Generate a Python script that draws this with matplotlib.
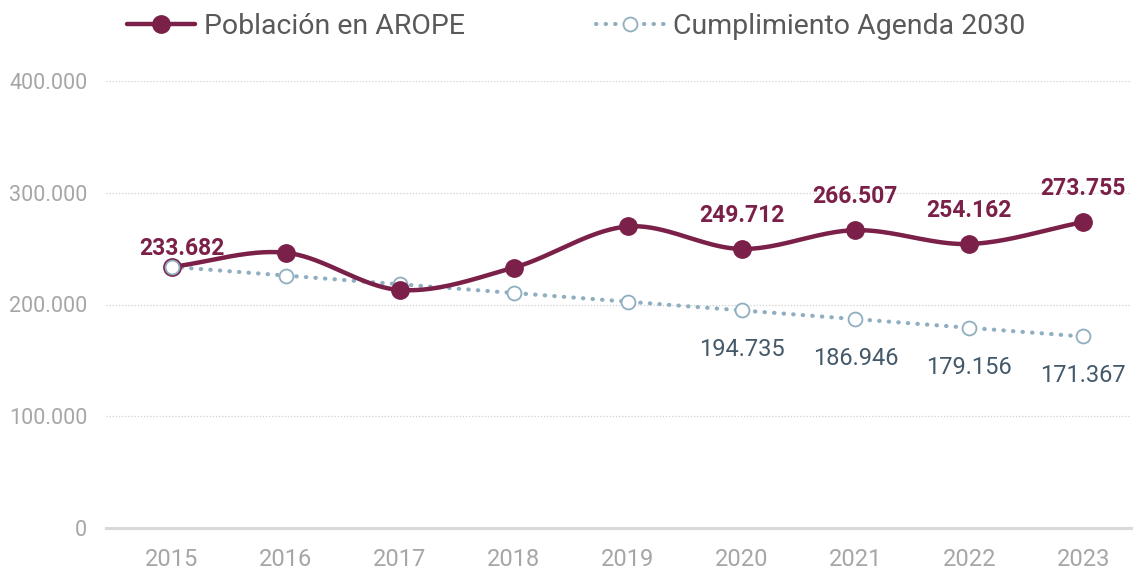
import numpy as np
import matplotlib.pyplot as plt
from matplotlib.lines import Line2D

plt.rcParams['font.family'] = ['Roboto', 'DejaVu Sans']

years = ['2015', '2016', '2017', '2018', '2019', '2020', '2021', '2022', '2023']
arope = [233682, 246300, 213000, 233000, 269800, 249712, 266507, 254162, 273755]
agenda = [233682, 225893, 218103, 210314, 202524, 194735, 186946, 179156, 171367]
arope_labeled = ['2015', '2020', '2021', '2022', '2023']
agenda_labeled = ['2020', '2021', '2022', '2023']

c_arope = '#7B2048'
c_agenda = '#8FAFC0'
c_agenda_txt = '#44596A'
c_tick = '#A6A6A6'


def smooth(xs, ys, n=40):
    # catmull-rom, close to the spreadsheet "smoothed line"
    xs = np.asarray(xs, float)
    ys = np.asarray(ys, float)
    px = np.concatenate([[2 * xs[0] - xs[1]], xs, [2 * xs[-1] - xs[-2]]])
    py = np.concatenate([[2 * ys[0] - ys[1]], ys, [2 * ys[-1] - ys[-2]]])
    ox, oy = [], []
    t = np.linspace(0, 1, n)
    for i in range(1, len(px) - 2):
        for p, o in ((px, ox), (py, oy)):
            p0, p1, p2, p3 = p[i - 1], p[i], p[i + 1], p[i + 2]
            o.extend(0.5 * (2 * p1 + (-p0 + p2) * t + (2 * p0 - 5 * p1 + 4 * p2 - p3) * t ** 2
                            + (-p0 + 3 * p1 - 3 * p2 + p3) * t ** 3))
    return ox, oy


x = np.arange(len(years))

fig = plt.figure(figsize=(11.34, 5.72), dpi=100)
ax = fig.add_axes([106 / 1134, 1 - 528 / 572, 1025 / 1134, 447 / 572])

ax.plot(x, agenda, color=c_agenda, lw=3, ls=(0, (0.1, 2.2)), dash_capstyle='round', zorder=2)
sx, sy = smooth(x, arope)
ax.plot(sx, sy, color=c_arope, lw=3.2, solid_capstyle='round', zorder=4)
ax.plot(x, arope, ls='none', marker='o', ms=12.5, color=c_arope, zorder=5)
ax.plot(x[:1], agenda[:1], ls='none', marker='o', ms=10, mfc='white', mec=c_agenda, mew=1.3, zorder=6)
ax.plot(x[1:], agenda[1:], ls='none', marker='o', ms=10, mfc='white', mec=c_agenda, mew=1.3, zorder=3)


def fmt(v):
    return f'{v:,}'.replace(',', '.')


for i, yr in enumerate(years):
    if yr in arope_labeled:
        dx = 7 if i == 0 else 0
        dy = 5 if i == 0 else 16
        ax.annotate(fmt(arope[i]), (x[i], arope[i]), xytext=(dx, dy), textcoords='offset points',
                    ha='center', va='bottom', color=c_arope, fontsize=16.5, fontweight='bold')
    if yr in agenda_labeled:
        ax.annotate(fmt(agenda[i]), (x[i], agenda[i]), xytext=(0, -20), textcoords='offset points',
                    ha='center', va='top', color=c_agenda_txt, fontsize=17)

ax.set_xlim(-0.58, 8.42)
ax.set_ylim(0, 400000)
ax.set_yticks([0, 100000, 200000, 300000, 400000])
ax.set_yticklabels(['0', '100.000', '200.000', '300.000', '400.000'])
ax.set_xticks(x)
ax.set_xticklabels(years)
ax.tick_params(length=0, colors=c_tick)
ax.tick_params(axis='y', labelsize=15.5, pad=13.5)
ax.tick_params(axis='x', labelsize=17, pad=14.5)
ax.yaxis.grid(True, color='#D0D0D0', lw=0.9, ls=(0, (1, 1.5)))
ax.set_axisbelow(True)
for s in ['top', 'right', 'left']:
    ax.spines[s].set_visible(False)
ax.spines['bottom'].set_color('#D9D9D9')
ax.spines['bottom'].set_linewidth(2.2)
ax.spines['bottom'].set_zorder(1)

h1 = Line2D([], [], color=c_arope, lw=3.2, marker='o', ms=12.5, solid_capstyle='round')
h2 = Line2D([], [], color=c_agenda, lw=3, ls=(0, (0.1, 2.2)), dash_capstyle='round',
            marker='o', ms=10, mfc='white', mec=c_agenda, mew=1.3)
fig.legend([h1, h2], ['Población en AROPE', 'Cumplimiento Agenda 2030'], loc='center',
           bbox_to_anchor=(0.508, 1 - 26 / 572), ncol=2, frameon=False, fontsize=20.5,
           labelcolor='#595959', handlelength=2.4, handletextpad=0.3, columnspacing=4.6)

fig.savefig('out.png', dpi=100)
